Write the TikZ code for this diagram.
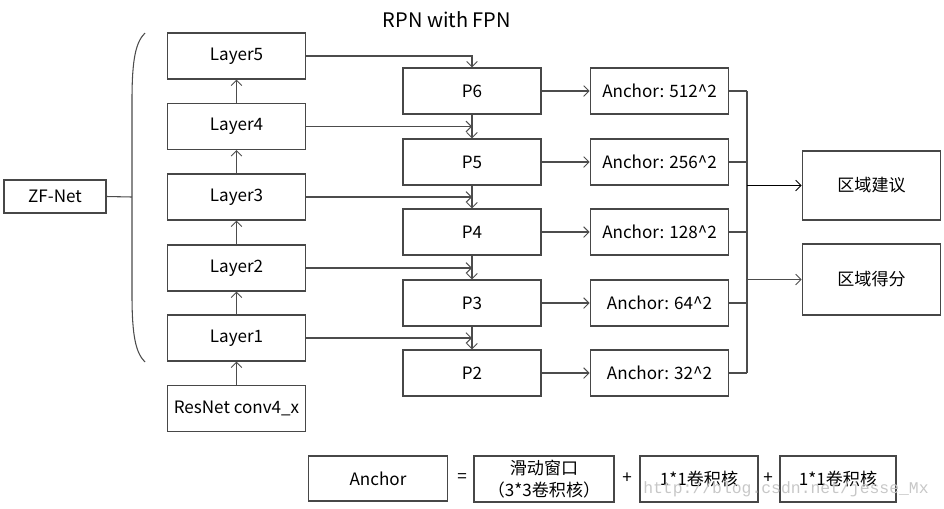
\documentclass[tikz,border=0pt]{standalone}
\usepackage{fontspec}
\setmainfont{Noto Sans CJK SC}
\newfontfamily\wmfont{Liberation Mono}
\usetikzlibrary{arrows.meta}
\begin{document}
\begin{tikzpicture}[x=0.75pt,y=-0.75pt,
  box/.style={draw=black!72, line width=0.9pt, inner sep=0pt, align=center,
    font=\fontsize{12.8}{15}\selectfont, minimum width=104pt, minimum height=34.5pt},
  ln/.style={draw=black!70, line width=0.8pt},
  arr/.style={ln, -{Straight Barb[length=4pt,width=8pt,line width=0.7pt]}},
  lbl/.style={font=\fontsize{12.8}{15}\selectfont, inner sep=0pt}]
\useasboundingbox (0,0) rectangle (944,508);
% title
\node[font=\fontsize{15}{18}\selectfont] (title) at (447,20) {RPN with FPN};
% left column
\node[box, minimum width=76.5pt, minimum height=24.75pt] (zf) at (55,196.5) {ZF-Net};
\node[box] (l5) at (236.5,56) {Layer5};
\node[box] (l4) at (236.5,126.5) {Layer4};
\node[box] (l3) at (236.5,197) {Layer3};
\node[box] (l2) at (236.5,268) {Layer2};
\node[box] (l1) at (236.5,338) {Layer1};
\node[box] (res) at (236.5,408.5) {ResNet conv4\_x};
% brace
\coordinate (bt) at (145,33);
\coordinate (bb) at (145,362);
\coordinate (bm) at (132,197);
\draw[ln] (bt) .. controls (136,42) and (132,58) .. (132,100) -- (132,295) .. controls (132,337) and (136,353) .. (bb);
\draw[ln] (zf.east) -- (bm);
% layer arrows
\draw[arr] (res.north) -- (l1.south);
\draw[arr] (l1.north) -- (l2.south);
\draw[arr] (l2.north) -- (l3.south);
\draw[arr] (l3.north) -- (l4.south);
\draw[arr] (l4.north) -- (l5.south);
% P column
\node[box, minimum width=103.5pt] (p6) at (472,91) {P6};
\node[box, minimum width=103.5pt] (p5) at (472,162) {P5};
\node[box, minimum width=103.5pt] (p4) at (472,232) {P4};
\node[box, minimum width=103.5pt] (p3) at (472,303) {P3};
\node[box, minimum width=103.5pt] (p2) at (472,373) {P2};
% lateral connections
\draw[arr] (l5.east) -| (p6.north);
\draw[arr] (l4.east) -- (l4.east -| p6.south);
\draw[arr] (l3.east) -- (l3.east -| p6.south);
\draw[arr] (l2.east) -- (l2.east -| p6.south);
\draw[arr] (l1.east) -- (l1.east -| p6.south);
\draw[arr] (p6.south) -- (p5.north);
\draw[arr] (p5.south) -- (p4.north);
\draw[arr] (p4.south) -- (p3.north);
\draw[arr] (p3.south) -- (p2.north);
% anchors
\node[box] (a6) at (659.5,91) {Anchor: 512\^{}2};
\node[box] (a5) at (659.5,162) {Anchor: 256\^{}2};
\node[box] (a4) at (659.5,232) {Anchor: 128\^{}2};
\node[box] (a3) at (659.5,303) {Anchor: 64\^{}2};
\node[box] (a2) at (659.5,373) {Anchor: 32\^{}2};
\foreach \i in {2,...,6} { \draw[arr] (p\i.east) -- (a\i.west); }
% merge
\coordinate (mt) at (747,91);
\coordinate (mb) at (747,373);
\foreach \i in {2,...,6} { \draw[ln] (a\i.east) -- (a\i.east -| mt); }
\draw[ln] (mt) -- (mb);
\node[box, minimum height=51.75pt] (r1) at (871.5,185.5) {区域建议};
\node[box, minimum height=53.25pt] (r2) at (871.5,279.5) {区域得分};
\draw[arr, draw=black, line width=1pt] (r1.west -| mt) -- (r1.west);
\draw[arr] (r2.west -| mt) -- (r2.west);
% bottom formula
\node[box, minimum height=33.75pt] (fa) at (378,478.5) {Anchor};
\node[lbl] (eq) at (462,478) {=};
\node[box, minimum width=105pt, font=\fontsize{12.8}{16}\selectfont] (fs) at (544,479) {滑动窗口\\（3*3卷积核）};
\node[lbl] (pl1) at (627,478) {+};
\node[box, minimum width=88.5pt] (fc1) at (699,479) {1*1卷积核};
\node[lbl] (pl2) at (768,478) {+};
\node[box, minimum width=87pt] (fc2) at (838,479) {1*1卷积核};
% watermark
\node[font=\wmfont\fontsize{12.3}{14}\selectfont, text=black!22, inner sep=0pt] (wm) at (786,489) {http://blog.csdn.net/jesse\_Mx};
\end{tikzpicture}
\end{document}
